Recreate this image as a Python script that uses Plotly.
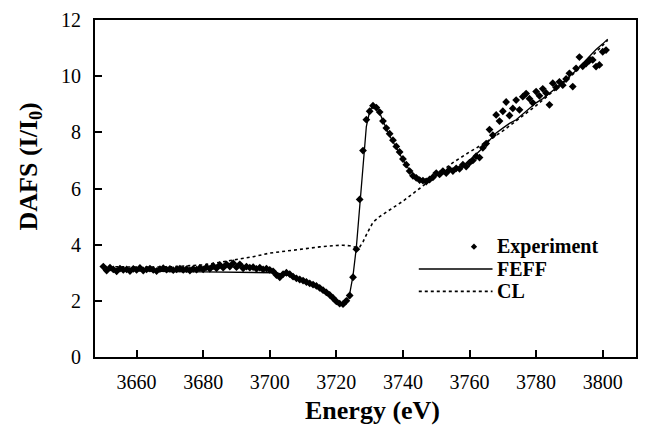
import plotly.graph_objects as go

# ---- Experiment (DAFS data) ----
exp_energy = [
    3650, 3651, 3652, 3653, 3654, 3655, 3656, 3657, 3658, 3659,
    3660, 3661, 3662, 3663, 3664, 3665, 3666, 3667, 3668, 3669,
    3670, 3671, 3672, 3673, 3674, 3675, 3676, 3677, 3678, 3679,
    3680, 3681, 3682, 3683, 3684, 3685, 3686, 3687, 3688, 3689,
    3690, 3691, 3692, 3693, 3694, 3695, 3696, 3697, 3698, 3699,
    3700, 3701, 3702, 3703, 3704, 3705, 3706, 3707, 3708, 3709,
    3710, 3711, 3712, 3713, 3714, 3715, 3716, 3717, 3718, 3719,
    3720, 3721, 3722, 3723, 3724, 3725, 3726, 3727, 3728, 3729,
    3730, 3731, 3732, 3733, 3734, 3735, 3736, 3737, 3738, 3739,
    3740, 3741, 3742, 3743, 3744, 3745, 3746, 3747, 3748, 3749,
    3750, 3751, 3752, 3753, 3754, 3755, 3756, 3757, 3758, 3759,
    3760, 3761, 3762, 3763, 3764, 3765, 3766, 3767, 3768, 3769,
    3770, 3771, 3772, 3773, 3774, 3775, 3776, 3777, 3778, 3779,
    3780, 3781, 3782, 3783, 3784, 3785, 3786, 3787, 3788, 3789,
    3790, 3791, 3792, 3793, 3794, 3795, 3796, 3797, 3798, 3799,
    3800, 3801,
]
exp_dafs = [
    3.22, 3.08, 3.18, 3.12, 3.05, 3.15, 3.10, 3.12, 3.06, 3.14,
    3.10, 3.17, 3.08, 3.12, 3.15, 3.10, 3.06, 3.13, 3.16, 3.11,
    3.14, 3.09, 3.12, 3.15, 3.10, 3.13, 3.08, 3.14, 3.11, 3.17,
    3.12, 3.20, 3.14, 3.24, 3.16, 3.28, 3.18, 3.30, 3.22, 3.34,
    3.20, 3.30, 3.16, 3.22, 3.18, 3.20, 3.14, 3.18, 3.12, 3.15,
    3.10, 3.05, 2.92, 2.84, 2.95, 3.00, 2.95, 2.86, 2.80, 2.76,
    2.72, 2.67, 2.62, 2.58, 2.53, 2.46, 2.38, 2.30, 2.21, 2.10,
    1.98, 1.90, 1.88, 2.00, 2.19, 2.84, 3.84, 5.61, 7.35, 8.45,
    8.75, 8.95, 8.88, 8.72, 8.40, 8.15, 7.95, 7.72, 7.50, 7.30,
    7.05, 6.85, 6.62, 6.45, 6.38, 6.30, 6.28, 6.25, 6.32, 6.40,
    6.55, 6.50, 6.62, 6.55, 6.68, 6.62, 6.72, 6.70, 6.85, 6.78,
    6.92, 7.00, 7.15, 7.10, 7.45, 7.60, 8.10, 7.90, 8.62, 8.40,
    8.75, 9.08, 8.60, 8.85, 9.15, 8.80, 9.27, 9.38, 9.20, 9.05,
    9.45, 9.30, 9.55, 9.40, 8.98, 9.75, 9.60, 9.80, 9.68, 9.90,
    10.10, 9.63, 10.28, 10.68, 10.35, 10.45, 10.55, 10.58, 10.34, 10.40,
    10.87, 10.93,
]

# ---- FEFF calculation ----
feff_energy = [
    3650, 3660, 3670, 3680, 3690, 3700, 3702, 3704, 3706, 3708,
    3710, 3712, 3714, 3716, 3718, 3720, 3721, 3722, 3723, 3724,
    3725, 3726, 3727, 3728, 3729, 3730, 3731, 3732, 3733, 3734,
    3735, 3736, 3738, 3740, 3742, 3744, 3746, 3748, 3750, 3752,
    3754, 3756, 3758, 3760, 3762, 3764, 3766, 3768, 3770, 3772,
    3774, 3776, 3778, 3780, 3782, 3784, 3786, 3788, 3790, 3792,
    3794, 3796, 3798, 3800, 3801.5,
]
feff_dafs = [
    3.10, 3.06, 3.04, 3.03, 3.02, 3.02, 3.00, 2.93, 2.90, 2.83,
    2.74, 2.64, 2.54, 2.40, 2.22, 2.00, 1.90, 1.86, 1.95, 2.25,
    2.90, 3.90, 5.40, 7.00, 8.20, 8.75, 8.97, 8.92, 8.70, 8.40,
    8.12, 7.88, 7.45, 7.02, 6.65, 6.42, 6.32, 6.35, 6.45, 6.52,
    6.60, 6.68, 6.80, 7.00, 7.22, 7.45, 7.70, 7.98, 8.15, 8.32,
    8.45, 8.65, 8.85, 9.05, 9.20, 9.38, 9.58, 9.78, 9.98, 10.20,
    10.45, 10.70, 10.95, 11.15, 11.32,
]

# ---- CL calculation ----
cl_energy = [
    3650, 3660, 3670, 3680, 3685, 3690, 3695, 3700, 3705, 3710,
    3715, 3720, 3722, 3724, 3726, 3727, 3728, 3729, 3730, 3731,
    3733, 3735, 3740, 3745, 3750, 3755, 3760, 3765, 3770, 3775,
    3780, 3785, 3790, 3795, 3800, 3801.5,
]
cl_dafs = [
    3.22, 3.20, 3.21, 3.28, 3.37, 3.47, 3.57, 3.70, 3.78, 3.86,
    3.92, 3.97, 3.98, 3.96, 3.90, 3.92, 4.10, 4.35, 4.60, 4.80,
    5.00, 5.15, 5.55, 6.00, 6.45, 6.92, 7.30, 7.65, 8.05, 8.50,
    8.95, 9.45, 9.95, 10.50, 11.10, 11.28,
]

x_ticks = [3660, 3680, 3700, 3720, 3740, 3760, 3780, 3800]
y_ticks = [0, 2, 4, 6, 8, 10, 12]
legend_names = ["Experiment", "FEFF", "CL"]

SERIF = "Liberation Serif, Times New Roman, serif"

fig = go.Figure()
fig.add_trace(go.Scatter(
    x=exp_energy, y=exp_dafs, mode="markers", name=legend_names[0],
    marker=dict(symbol="diamond", size=6, color="black", line=dict(width=0)),
))
fig.add_trace(go.Scatter(
    x=feff_energy, y=feff_dafs, mode="lines", name=legend_names[1],
    line=dict(color="black", width=1.3),
))
fig.add_trace(go.Scatter(
    x=cl_energy, y=cl_dafs, mode="lines", name=legend_names[2],
    line=dict(color="black", width=1.6, dash="dot"),
))

# ---- legend drawn as a key box (paper coordinates) ----
leg_text_x = 0.7403
leg_rows_y = [0.3274, 0.2611, 0.1947]
key_x0, key_x1 = 0.5985, 0.7348
diamond_x, dx, dy = 0.7005, 0.0058, 0.0092

annotations = []
for name, yy in zip(legend_names, leg_rows_y):
    annotations.append(dict(
        xref="paper", yref="paper", x=leg_text_x, y=yy,
        xanchor="left", yanchor="middle", showarrow=False, text=name,
        borderpad=0,
        font=dict(family=SERIF, size=20, color="black", weight="bold"),
    ))

shapes = [
    dict(type="path", xref="paper", yref="paper",
         path=(f"M {diamond_x - dx},{leg_rows_y[0]} L {diamond_x},{leg_rows_y[0] + dy} "
               f"L {diamond_x + dx},{leg_rows_y[0]} L {diamond_x},{leg_rows_y[0] - dy} Z"),
         fillcolor="black", line=dict(width=0)),
    dict(type="line", xref="paper", yref="paper", x0=key_x0, x1=key_x1,
         y0=leg_rows_y[1], y1=leg_rows_y[1], line=dict(color="black", width=1.3)),
    dict(type="line", xref="paper", yref="paper", x0=key_x0, x1=key_x1,
         y0=leg_rows_y[2], y1=leg_rows_y[2], line=dict(color="black", width=1.6, dash="dot")),
]

# axis titles
annotations.append(dict(
    xref="paper", yref="paper", x=0.5125, y=-0.16, xanchor="center", yanchor="middle",
    showarrow=False, text="Energy (eV)",
    font=dict(family=SERIF, size=26, color="black", weight="bold"),
))
annotations.append(dict(
    xref="paper", yref="paper", x=-0.1197, y=0.566, xanchor="center", yanchor="middle",
    showarrow=False, text="DAFS (I/I<sub>0</sub>)", textangle=-90,
    font=dict(family=SERIF, size=26, color="black", weight="bold"),
))

fig.update_layout(
    width=647, height=432,
    margin=dict(l=95, r=9, t=18, b=75),
    paper_bgcolor="white", plot_bgcolor="white",
    font=dict(family=SERIF, color="black"),
    showlegend=False,
    annotations=annotations,
    shapes=shapes,
    xaxis=dict(
        range=[3647.5, 3810], tickvals=x_ticks,
        ticks="inside", ticklen=7, tickwidth=1.5, tickcolor="black",
        showline=True, linecolor="black", linewidth=2, mirror=True,
        showgrid=False, zeroline=False,
        tickfont=dict(family=SERIF, size=20, color="black"),
        ticklabelstandoff=6,
    ),
    yaxis=dict(
        range=[0, 12], tickvals=y_ticks,
        ticks="inside", ticklen=7, tickwidth=1.5, tickcolor="black",
        showline=True, linecolor="black", linewidth=2, mirror=True,
        showgrid=False, zeroline=False,
        tickfont=dict(family=SERIF, size=20, color="black"),
        ticklabelstandoff=8,
    ),
)

fig.write_html("out.html")
